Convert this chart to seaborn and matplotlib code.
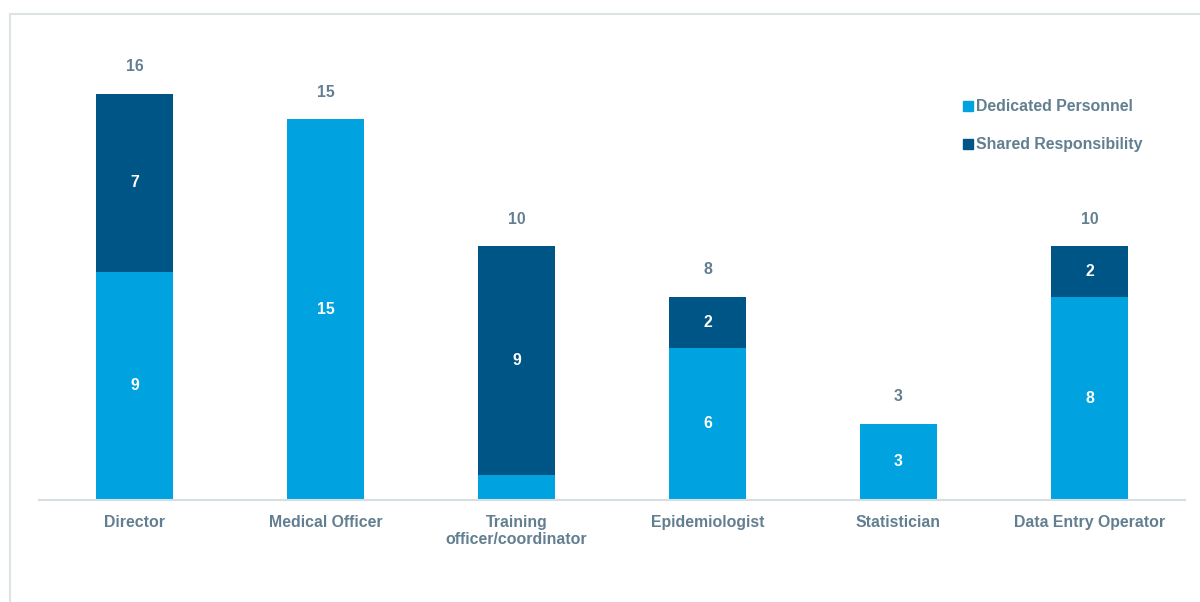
import matplotlib
matplotlib.use("Agg")
import matplotlib.pyplot as plt
import seaborn as sns
import pandas as pd
from matplotlib.patches import Rectangle
from matplotlib.lines import Line2D

categories = ["Director", "Medical Officer", "Training\nofficer/coordinator",
              "Epidemiologist", "Statistician", "Data Entry Operator"]
dedicated = [9, 15, 1, 6, 3, 8]
shared = [7, 0, 9, 2, 0, 2]
totals = [d + s for d, s in zip(dedicated, shared)]

LIGHT = "#00A3E0"
DARK = "#005587"
TXT = "#627E91"
FS = 11.45

sns.set_theme(style="white")
plt.rcParams["font.family"] = ["Liberation Sans", "DejaVu Sans"]

df = pd.DataFrame({"cat": categories, "ded": dedicated, "sh": shared, "tot": totals})

fig = plt.figure(figsize=(12, 6.02), dpi=100)
ax = fig.add_axes([39/1200, 1 - 500/602, (1185-39)/1200, (500-43)/602])

sns.barplot(data=df, x="cat", y="tot", color=DARK, width=0.40, saturation=1,
            linewidth=0, ax=ax)
sns.barplot(data=df, x="cat", y="ded", color=LIGHT, width=0.40, saturation=1,
            linewidth=0, ax=ax)

ax.set_ylim(0, 18)
ax.set_xlim(-0.5, 5.5)
ax.set_xlabel("")
ax.set_ylabel("")
ax.set_yticks([])
for s in ["top", "right", "left"]:
    ax.spines[s].set_visible(False)
ax.spines["bottom"].set_color("#D5DEE3")
ax.spines["bottom"].set_linewidth(1.5)
ax.tick_params(axis="x", length=0, pad=10.5, labelsize=FS, labelcolor=TXT)
for lab in ax.get_xticklabels():
    lab.set_fontweight("bold")
    lab.set_linespacing(1.2)
    lab.set_verticalalignment("top")

for i, (d, s, t) in enumerate(zip(dedicated, shared, totals)):
    if d >= 2:
        ax.text(i, d / 2, str(d), ha="center", va="center", color="white",
                fontsize=FS, fontweight="bold")
    if s > 0:
        ax.text(i, d + s / 2, str(s), ha="center", va="center", color="white",
                fontsize=FS, fontweight="bold")
    ax.annotate(str(t), (i, t), xytext=(0, 27), textcoords="offset pixels",
                ha="center", va="center", color=TXT, fontsize=FS, fontweight="bold")

handles = [Line2D([], [], marker="s", linestyle="", markersize=7, color=LIGHT),
           Line2D([], [], marker="s", linestyle="", markersize=7, color=DARK)]
leg = fig.legend(handles, ["Dedicated Personnel", "Shared Responsibility"],
                 loc="upper left", bbox_to_anchor=(949/1200, 1 - 88/602),
                 frameon=False, handletextpad=0.0, labelspacing=1.45,
                 prop={"weight": "bold", "size": FS}, handlelength=1.0,
                 borderpad=0.2)
for t in leg.get_texts():
    t.set_color(TXT)

fig.patches.append(Rectangle((10/1200, -0.1), 1.2, 1 - 14/602 + 0.1,
                             transform=fig.transFigure, fill=False,
                             edgecolor="#DDE4E8", linewidth=1.5))

fig.savefig("out.png", dpi=100)
